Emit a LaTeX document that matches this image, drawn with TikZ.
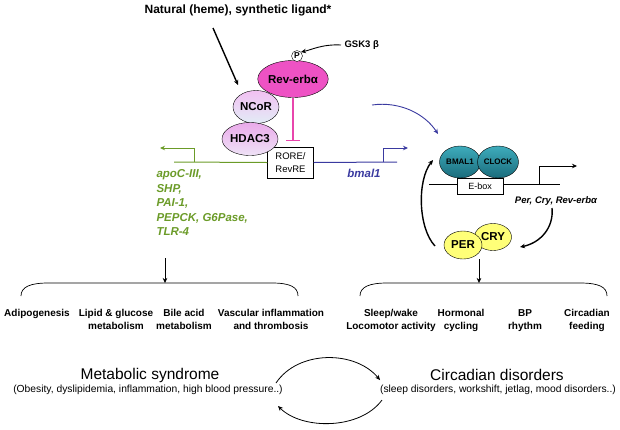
\documentclass[tikz,border=0pt]{standalone}
\usepackage{fontspec}
\setmainfont{Liberation Sans}
\usetikzlibrary{shapes.geometric,arrows.meta}

\definecolor{revpink}{RGB}{238,82,196}
\definecolor{barpink}{RGB}{232,70,172}
\definecolor{ncortop}{RGB}{242,192,242}
\definecolor{ncorbot}{RGB}{226,236,246}
\definecolor{hdactop}{RGB}{234,170,234}
\definecolor{hdacbot}{RGB}{238,226,246}
\definecolor{tealtop}{RGB}{62,172,188}
\definecolor{tealbot}{RGB}{26,108,124}
\definecolor{peryellow}{RGB}{255,255,120}
\definecolor{genegreen}{RGB}{107,155,40}
\definecolor{geneblue}{RGB}{58,58,160}

\newcommand{\fsz}[2]{\fontsize{#1}{#2}\selectfont}

\begin{document}
\begin{tikzpicture}[x=1pt,y=-1pt,
	blob/.style={ellipse, draw, inner sep=0pt, font=\bfseries\fsz{11.5}{13}},
	box/.style={rectangle, draw, fill=white, inner sep=0pt, align=center},
	arr/.style={-{Stealth[length=5pt,width=4.5pt]}},
	fat/.style={arr, line width=1.4pt},
	effect/.style={font=\bfseries\fsz{10}{13}, align=center, anchor=north}]

	% ---- frame

	\useasboundingbox (0,0) rectangle (620,429);

	% ---- ligand

	\node[font=\bfseries\fsz{12}{14}] (ligand) at (238,10) {Natural (heme), synthetic ligand*};
	\coordinate (ligfrom) at (213,28);
	\coordinate (ligto) at (238,85);
	\draw[fat] (ligfrom) -- (ligto);

	% ---- target genes of Rev-erb

	\node[box, minimum width=46, minimum height=31, font=\fsz{9.5}{13}] (rore) at (290.5,162.5) {RORE/\\RevRE};

	\coordinate (gl) at (174,162);
	\coordinate (gp) at (194,162);
	\coordinate (gtip) at (160,148);
	\draw[genegreen, line width=1pt] (gl) -- (rore.west);
	\draw[genegreen, line width=1pt, arr] (gp) |- (gtip);

	\coordinate (br) at (397,162);
	\coordinate (bp) at (383,162);
	\coordinate (btip) at (408,148);
	\draw[geneblue, line width=1pt] (rore.east) -- (br);
	\draw[geneblue, line width=1pt, arr] (bp) |- (btip);

	\node[anchor=north west, align=left, text=genegreen, font=\bfseries\itshape\fsz{11.5}{14.5}] (glist) at (153,166)
		{apoC-III,\\SHP,\\PAI-1,\\PEPCK, G6Pase,\\TLR-4};
	\node[text=geneblue, font=\bfseries\itshape\fsz{11.5}{13}] (bmal) at (364,173) {bmal1};

	% ---- repressor complex

	\node[blob, top color=ncortop, bottom color=ncorbot, minimum width=46, minimum height=33] (ncor) at (256,107) {NCoR};
	\node[blob, top color=hdactop, bottom color=hdacbot, minimum width=54, minimum height=33] (hdac) at (250,139) {HDAC3};
	\node[blob, fill=revpink, minimum width=62, minimum height=37] (reverb) at (293,79) {Rev-erbα};
	\node[circle, draw, fill=white, inner sep=1pt, font=\bfseries\fsz{8.5}{9}] (phos) at (297,56) {P};

	\coordinate (barend) at (293,141);
	\draw[barpink, line width=1.3pt, -{Bar[width=14pt]}] (reverb.south) -- (barend);

	\node[anchor=west, font=\bfseries\fsz{9.5}{11}] (gsk) at (341,45) {GSK3 β};
	\draw[arr, line width=0.9pt] (gsk.west) .. controls (322,44) and (311,50) .. (phos.north east);

	% ---- clock loop

	\coordinate (el) at (429,184);
	\coordinate (er) at (560,184);
	\coordinate (ep) at (539,184);
	\coordinate (etip) at (577,166);
	\draw[line width=0.8pt] (el) -- (er);
	\draw[line width=0.8pt, arr] (ep) |- (etip);
	\node[box, minimum width=46, minimum height=16, font=\fsz{9}{11}] (ebox) at (480,186) {E-box};

	\node[blob, top color=tealtop, bottom color=tealbot, minimum width=41, minimum height=32, font=\bfseries\fsz{8}{9}] (bmalp) at (460,162) {BMAL1};
	\node[blob, top color=tealtop, bottom color=tealbot, minimum width=41, minimum height=32, font=\bfseries\fsz{8}{9}] (clock) at (498,162) {CLOCK};

	\node[font=\bfseries\itshape\fsz{9.5}{11}] (pcr) at (556,201) {Per, Cry, Rev-erbα};

	\node[blob, fill=peryellow, minimum width=37, minimum height=27] (cry) at (493,237) {\raisebox{2pt}{CRY}};
	\node[blob, fill=peryellow, minimum width=38, minimum height=28] (per) at (463,245) {PER};

	\coordinate (bluefrom) at (372,105);
	\coordinate (blueto) at (438,134);
	\draw[geneblue, line width=0.9pt, arr] (bluefrom) .. controls (400,101) and (425,114) .. (blueto);

	\coordinate (pcrfrom) at (552,208);
	\coordinate (pcrto) at (520,247);
	\draw[fat] (pcrfrom) .. controls (554,228) and (540,243) .. (pcrto);
	\coordinate (loopfrom) at (435,246);
	\coordinate (loopto) at (433,160);
	\draw[fat] (loopfrom) .. controls (418,228) and (417,180) .. (loopto);

	% ---- outputs

	\coordinate (lafrom) at (165,258);
	\coordinate (lato) at (165,283);
	\draw[arr] (lafrom) -- (lato);
	\draw[line width=0.7pt] (21,296) .. controls (21,287) and (30,283) .. (48,283) -- (272,283)
		.. controls (290,283) and (298,287) .. (298,296);

	\coordinate (rafrom) at (479,259);
	\coordinate (rato) at (479,283);
	\draw[arr] (rafrom) -- (rato);
	\draw[line width=0.7pt] (360,296) .. controls (360,287) and (369,283) .. (387,283) -- (580,283)
		.. controls (599,283) and (607,287) .. (607,296);

	\node[effect] (adipo) at (37,306) {Adipogenesis};
	\node[effect] (lipid) at (116,306) {Lipid \& glucose\\metabolism};
	\node[effect] (bile) at (184,306) {Bile acid\\metabolism};
	\node[effect] (vasc) at (271,306) {Vascular inflammation\\and thrombosis};

	\node[effect] (sleep) at (391,306) {Sleep/wake\\Locomotor activity};
	\node[effect] (horm) at (461,306) {Hormonal\\cycling};
	\node[effect] (bp) at (525,306) {BP\\rhythm};
	\node[effect] (feed) at (587,306) {Circadian\\feeding};

	% ---- diseases

	\node[font=\fsz{15.5}{18}] (metab) at (150,375) {Metabolic syndrome};
	\node[font=\fsz{10.3}{12}] (metabsub) at (148,390) {(Obesity, dyslipidemia, inflammation, high blood pressure..)};
	\node[font=\fsz{15.5}{18}] (circ) at (497,375) {Circadian disorders};
	\node[font=\fsz{10.3}{12}] (circsub) at (498,390) {(sleep disorders, workshift, jetlag, mood disorders..)};

	\coordinate (topfrom) at (276,383);
	\coordinate (topto) at (380,380);
	\coordinate (botfrom) at (382,400);
	\coordinate (botto) at (278,406);
	\draw[arr, line width=0.8pt] (topfrom) .. controls (298,350) and (355,350) .. (topto);
	\draw[arr, line width=0.8pt] (botfrom) .. controls (360,430) and (302,430) .. (botto);

\end{tikzpicture}
\end{document}
